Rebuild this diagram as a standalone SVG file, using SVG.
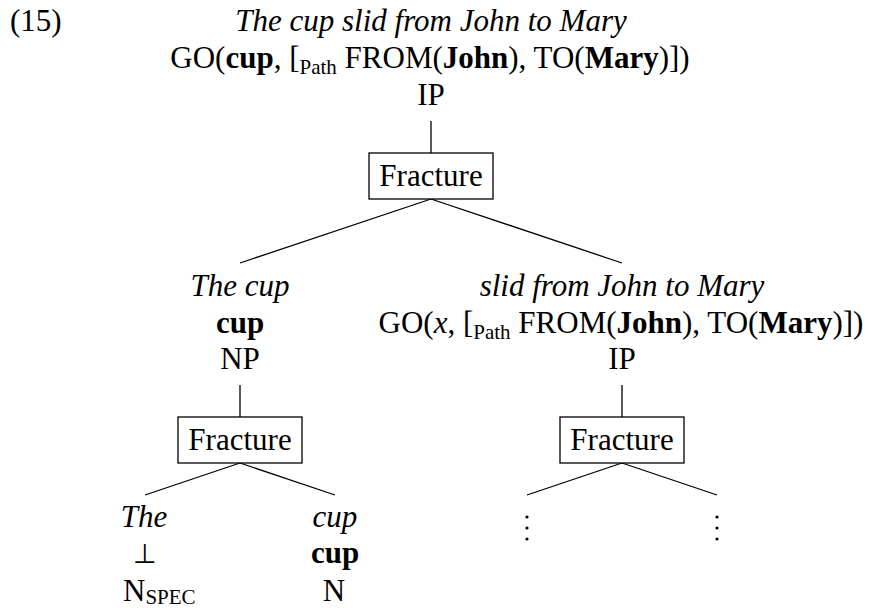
<svg xmlns="http://www.w3.org/2000/svg" width="869" height="608" viewBox="0 0 869 608" font-family="'Liberation Serif', 'DejaVu Serif', 'Times New Roman', serif">
<style>
text{font-family:'Liberation Serif','DejaVu Serif','Times New Roman',serif;font-size:31px;fill:#000}
.c{text-anchor:middle}
.i{font-style:italic}
.b{font-weight:bold}
.s{font-size:21px}
.bot{font-family:'DejaVu Sans ExtraLight','DejaVu Sans',sans-serif;font-weight:200;font-size:27px}
.box{fill:#fff;stroke:#000;stroke-width:1.3}
.e{stroke:#000;stroke-width:1.3;fill:none}
</style>
<rect width="869" height="608" fill="#fff"/>
<text x="10" y="31">(15)</text>
<g id="connectors">
<line class="e" x1="431" y1="121" x2="431" y2="153"/>
<line class="e" x1="431" y1="199" x2="240" y2="263"/>
<line class="e" x1="431" y1="199" x2="622" y2="263"/>
<line class="e" x1="240" y1="385" x2="240" y2="417"/>
<line class="e" x1="240" y1="463" x2="145" y2="495"/>
<line class="e" x1="240" y1="463" x2="335" y2="495"/>
<line class="e" x1="622" y1="385" x2="622" y2="417"/>
<line class="e" x1="622" y1="463" x2="527" y2="495"/>
<line class="e" x1="622" y1="463" x2="717" y2="495"/>
</g>
<g id="root">
<text class="c i" x="431" y="31">The cup slid from John to Mary</text>
<text class="c" x="430" y="68">GO(<tspan class="b">cup</tspan>, [<tspan class="s" dy="6">Path</tspan><tspan dy="-6"> FROM(</tspan><tspan class="b">John</tspan>), TO(<tspan class="b">Mary</tspan>)])</text>
<text class="c" x="431" y="105">IP</text>
</g>
<g id="fracture-top">
<rect class="box" x="369" y="153" width="124" height="46"/>
<text class="c" x="431" y="186">Fracture</text>
</g>
<g id="np">
<text class="c i" x="240" y="296">The cup</text>
<text class="c b" x="240" y="333">cup</text>
<text class="c" x="240" y="369">NP</text>
</g>
<g id="fracture-np">
<rect class="box" x="178" y="417" width="124" height="46"/>
<text class="c" x="240" y="450">Fracture</text>
</g>
<g id="ip2">
<text class="c i" x="622" y="296">slid from John to Mary</text>
<text class="c" x="621" y="333">GO(<tspan class="i">x</tspan>, [<tspan class="s" dy="6">Path</tspan><tspan dy="-6"> FROM(</tspan><tspan class="b">John</tspan>), TO(<tspan class="b">Mary</tspan>)])</text>
<text class="c" x="622" y="369">IP</text>
</g>
<g id="fracture-ip">
<rect class="box" x="560" y="417" width="124" height="46"/>
<text class="c" x="622" y="450">Fracture</text>
</g>
<g id="nspec">
<text class="c i" x="144" y="527">The</text>
<text class="c bot" x="145" y="563">⊥</text>
<text x="123" y="601">N<tspan class="s" dy="3">SPEC</tspan></text>
</g>
<g id="n">
<text class="c i" x="335" y="527">cup</text>
<text class="c b" x="335" y="563">cup</text>
<text class="c" x="334" y="601">N</text>
</g>
<g id="dots-left">
<circle cx="527" cy="517" r="1.6"/><circle cx="527" cy="528" r="1.6"/><circle cx="527" cy="539" r="1.6"/>
</g>
<g id="dots-right">
<circle cx="717" cy="517" r="1.6"/><circle cx="717" cy="528" r="1.6"/><circle cx="717" cy="539" r="1.6"/>
</g>
</svg>
